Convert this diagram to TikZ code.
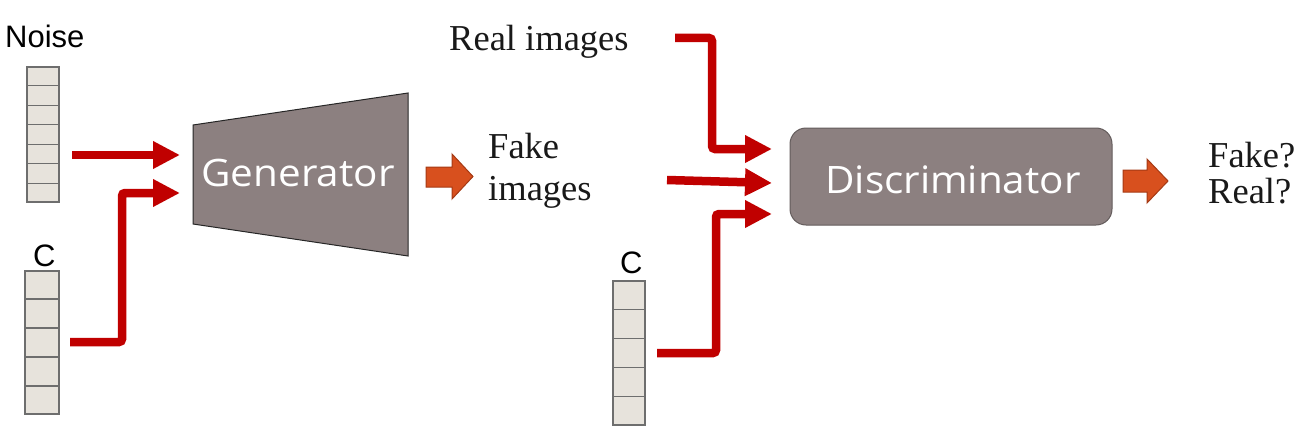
\documentclass[tikz,border=0pt]{standalone}
\usepackage{fontspec}
\setmainfont{Liberation Serif}
\newfontfamily\labelfont{Liberation Sans}
\newfontfamily\boxfont[FakeStretch=1.07]{Open Sans}
\usetikzlibrary{arrows.meta,calc}
\definecolor{arrowred}{RGB}{192,0,0}
\definecolor{boxgray}{RGB}{140,128,128}
\definecolor{boxline}{RGB}{100,92,92}
\definecolor{cellfill}{RGB}{231,227,220}
\definecolor{cellline}{RGB}{110,110,110}
\definecolor{orangefill}{RGB}{216,80,30}
\definecolor{orangeline}{RGB}{165,58,20}
\tikzset{
  vec/.style={draw=cellline, fill=cellfill, line width=1.4pt, inner sep=0pt},
  cellsep/.style={draw=cellline, line width=1.4pt},
  redarrow/.style={draw=arrowred, line width=8.5pt, rounded corners=3pt,
    -{Triangle[length=27pt,width=26pt]}},
  orangearrow/.style={fill=orangefill, draw=orangeline, line width=1pt, line join=miter},
  sanslabel/.style={font=\labelfont\fontsize{31}{36}\selectfont, inner sep=0pt},
  seriflabel/.style={font=\fontsize{36.5}{42}\selectfont, inner sep=0pt, text=black!90},
  boxtext/.style={font=\boxfont\fontsize{37.8}{44}\selectfont, text=white, inner sep=0pt},
  genshape/.style={fill=boxgray, draw=black!85, line width=1pt},
  disc/.style={fill=boxgray, draw=boxline, line width=1pt, rounded corners=16pt,
    minimum width=322pt, minimum height=97pt, inner sep=0pt}
}
\begin{document}
\begin{tikzpicture}[x=1pt,y=-1pt]
\useasboundingbox (0,0) rectangle (1306,436);

% ---- vectors ----
\node[vec, minimum width=32pt, minimum height=135pt] (noise) at (43,134.5) {};
\foreach \i in {1,...,6}
  \draw[cellsep] ($(noise.north west)!\i/7!(noise.south west)$) -- ($(noise.north east)!\i/7!(noise.south east)$);
\node[vec, minimum width=34pt, minimum height=143pt] (c1) at (42,342.5) {};
\foreach \i in {1,...,4}
  \draw[cellsep] ($(c1.north west)!\i/5!(c1.south west)$) -- ($(c1.north east)!\i/5!(c1.south east)$);
\node[vec, minimum width=32pt, minimum height=144pt] (c2) at (629,353) {};
\foreach \i in {1,...,4}
  \draw[cellsep] ($(c2.north west)!\i/5!(c2.south west)$) -- ($(c2.north east)!\i/5!(c2.south east)$);

% ---- labels ----
\node[sanslabel, anchor=base west] (noiselbl) at (5,48) {Noise};
\node[sanslabel, anchor=base west] (c1lbl) at (33,266) {C};
\node[sanslabel, anchor=base west] (c2lbl) at (620,273) {C};
\node[seriflabel, anchor=base west] (real) at (449,51) {Real images};
\node[seriflabel, anchor=base west] (fake1) at (488,158) {Fake};
\node[seriflabel, anchor=base west] (fake2) at (488,200) {images};
\node[seriflabel, anchor=base west] (out1) at (1208,167) {Fake?};
\node[seriflabel, anchor=base west] (out2) at (1208,203) {Real?};

% ---- generator ----
\draw[genshape] (193,125) -- (408,93) -- (408,256) -- (193,224) -- cycle;
\node[boxtext, anchor=base] (gen) at (298,186) {Generator};

% ---- discriminator ----
\node[disc] (dis) at (951,176.5) {};
\node[boxtext, anchor=base] (distext) at (953,193) {Discriminator};

% ---- coordinates for connector ends ----
\coordinate (nstart) at (72,155);
\coordinate (gin1) at (180,155);
\coordinate (cstart) at (70,342);
\coordinate (gin2) at (180,193);
\coordinate (rstart) at (675,38);
\coordinate (din1) at (772,149);
\coordinate (fstart) at (667,180);
\coordinate (din2) at (772,183);
\coordinate (c2start) at (657,353);
\coordinate (din3) at (772,214);

% ---- red arrows ----
\draw[redarrow] (nstart) -- (gin1);
\draw[redarrow] (cstart) -- (122,342) -- (122,193) -- (gin2);
\draw[redarrow] (rstart) -- (712,38) -- (712,149) -- (din1);
\draw[redarrow] (fstart) -- (din2);
\draw[redarrow] (c2start) -- (716,353) -- (716,214) -- (din3);

% ---- orange block arrows ----
\draw[orangearrow] (426,167) -- (452,167) -- (452,154) -- (473,176.5) -- (452,199) -- (452,187) -- (426,187) -- cycle;
\draw[orangearrow] (1123,170) -- (1147,170) -- (1147,159) -- (1168,181) -- (1147,203) -- (1147,192) -- (1123,192) -- cycle;
\end{tikzpicture}
\end{document}
